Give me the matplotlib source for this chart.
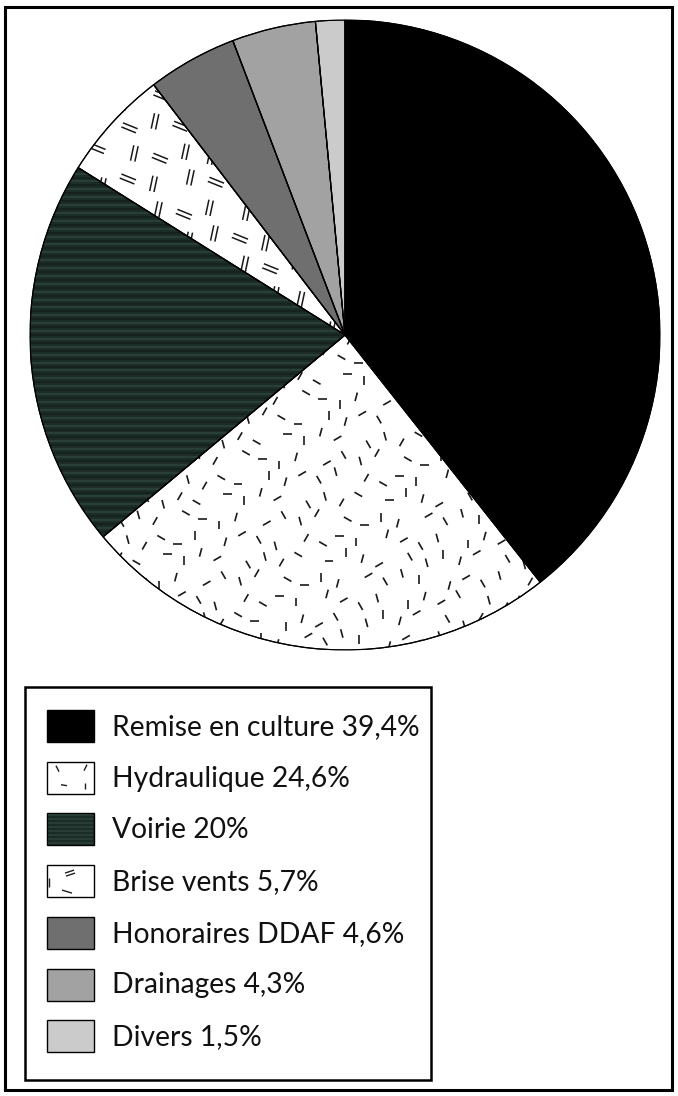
import numpy as np
import matplotlib
matplotlib.use('Agg')
import matplotlib.pyplot as plt
from matplotlib.patches import Rectangle, Wedge
from matplotlib.collections import LineCollection

labels = ["Remise en culture", "Hydraulique", "Voirie", "Brise vents",
          "Honoraires DDAF", "Drainages", "Divers"]
values = [39.4, 24.6, 20, 5.7, 4.6, 4.3, 1.5]
colors = ["#000000", "#ffffff", "#1c2d28", "#ffffff", "#6f6f6f", "#a2a2a2", "#cbcbcb"]
textures = [None, "dash", "stripe", "double", None, None, None]

W, H = 678, 1096
fig = plt.figure(figsize=(W / 100, H / 100), dpi=100)
fig.patch.set_facecolor("white")
bg = fig.add_axes([0, 0, 1, 1])
bg.set_xlim(0, W)
bg.set_ylim(H, 0)
bg.axis("off")
bg.add_patch(Rectangle((5, 7), 667, 1083, fill=False, lw=2.2, ec="black"))

cx, cy, R = 345, 335, 315
axp = fig.add_axes([(cx - R) / W, (H - cy - R) / H, 2 * R / W, 2 * R / H])
wedges, _ = axp.pie(values, colors=colors, startangle=90, counterclock=False,
                    wedgeprops=dict(edgecolor="black", linewidth=0.8))
axp.set_xlim(-1, 1)
axp.set_ylim(-1, 1)
axp.set_aspect("equal")
axp.axis("off")


def frac(v):
    return v - np.floor(v)


def dash_segments(x0, x1, y0, y1, s, length):
    segs = []
    ni = int((x1 - x0) / s) + 1
    nj = int((y1 - y0) / s) + 1
    angs = np.deg2rad([0, 30, 60, 90, 120, 150, 75, 105])
    for i in range(ni):
        for j in range(nj):
            ox = 0.7 * (frac(i * 0.7548 + j * 0.5698 + 0.13) - 0.5)
            oy = 0.7 * (frac(i * 0.5698 + j * 0.7548 + 0.41) - 0.5)
            x = x0 + (i + 0.5 + ox) * s
            y = y0 + (j + 0.5 + oy) * s
            a = angs[int(frac(i * 0.3819 + j * 0.6180 + 0.27) * len(angs))]
            dx, dy = 0.5 * length * np.cos(a), 0.5 * length * np.sin(a)
            segs.append([(x - dx, y - dy), (x + dx, y + dy)])
    return segs


def double_segments(x0, x1, y0, y1, s, length, gap):
    segs = []
    ni = int((x1 - x0) / s) + 1
    nj = int((y1 - y0) / s) + 1
    for i in range(ni):
        for j in range(nj):
            ox = 0.4 * (frac(i * 0.7548 + j * 0.5698) - 0.5)
            oy = 0.4 * (frac(i * 0.5698 + j * 0.7548) - 0.5)
            x = x0 + (i + 0.5 + ox) * s
            y = y0 + (j + 0.5 + oy) * s
            a = np.deg2rad(78 if frac(i * 0.618 + j * 0.382) < 0.6 else -22)
            dx, dy = 0.5 * length * np.cos(a), 0.5 * length * np.sin(a)
            nx, ny = -np.sin(a) * gap / 2, np.cos(a) * gap / 2
            for sgn in (-1, 1):
                segs.append([(x - dx + sgn * nx, y - dy + sgn * ny),
                             (x + dx + sgn * nx, y + dy + sgn * ny)])
    return segs


for w, tex in zip(wedges, textures):
    if tex is None:
        continue
    if tex == "dash":
        lc = LineCollection(dash_segments(-1, 1, -1, 1, 0.064, 0.028),
                            colors="#1a1a1a", linewidths=1.2, zorder=2)
    elif tex == "double":
        lc = LineCollection(double_segments(-1, 1, -1, 1, 0.09, 0.05, 0.014),
                            colors="#1a1a1a", linewidths=1.1, zorder=2)
    else:
        ys = np.arange(-1, 1, 0.0125)
        segs = [[(-1, y), (1, y)] for y in ys]
        cols = ["#2a4038" if k % 2 else "#15221d" for k in range(len(ys))]
        lc = LineCollection(segs, colors=cols, linewidths=1.3, zorder=2)
    axp.add_collection(lc)
    lc.set_clip_path(w)

for w in wedges:
    axp.add_patch(Wedge(w.center, w.r, w.theta1, w.theta2, fill=False,
                        ec="black", lw=0.9, zorder=3))

# legend
bg.add_patch(Rectangle((25, 687), 406, 393, fill=False, lw=1.8, ec="black"))
y_first, step = 726, 51.7
sx, sw, sh = 47, 47, 32
for k, (lab, val, col, tex) in enumerate(zip(labels, values, colors, textures)):
    yc = y_first + k * step
    bg.add_patch(Rectangle((sx, yc - sh / 2), sw, sh, fc=col, ec="black", lw=1.0))
    if tex == "dash":
        segs = [[(sx + 9, yc - 12), (sx + 12, yc - 6)],
                [(sx + 40, yc - 13), (sx + 37, yc - 7)],
                [(sx + 14, yc + 7), (sx + 20, yc + 8)],
                [(sx + 38, yc + 5), (sx + 38, yc + 11)]]
        bg.add_collection(LineCollection(segs, colors="#1e1e1e", linewidths=1.0))
    elif tex == "double":
        segs = [[(sx + 18, yc - 8), (sx + 27, yc - 11)],
                [(sx + 19, yc - 5), (sx + 28, yc - 8)],
                [(sx + 15, yc + 9), (sx + 25, yc + 12)],
                [(sx + 2, yc - 3), (sx + 2, yc + 6)]]
        bg.add_collection(LineCollection(segs, colors="#1e1e1e", linewidths=1.0))
    elif tex == "stripe":
        segs = [[(sx + 1, y), (sx + sw - 1, y)] for y in np.arange(yc - sh / 2 + 2, yc + sh / 2 - 1, 4)]
        bg.add_collection(LineCollection(segs, colors="#2a4038", linewidths=1.2))
    txt = f"{lab} {val:g}%".replace(".", ",")
    bg.text(112, yc + 1, txt, fontsize=20.3, family="Lato", color="#111111",
            va="center", ha="left")

fig.savefig("out.png", dpi=100, facecolor="white")
